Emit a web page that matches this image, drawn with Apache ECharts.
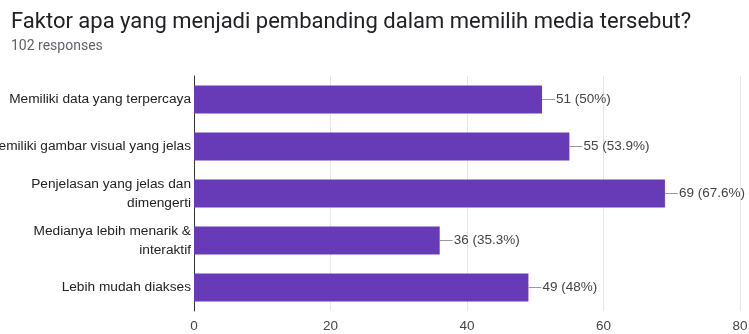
<!DOCTYPE html>
<html><head><meta charset="utf-8">
<script src="https://cdn.jsdelivr.net/npm/echarts@6/dist/echarts.min.js"></script>
<style>html,body{margin:0;padding:0;background:#fff}#c{width:749px;height:334px}</style>
</head><body><div id="c"></div>
<script>
const categories = ["Memiliki data yang terpercaya","Memiliki gambar visual yang jelas","Penjelasan yang jelas dan\ndimengerti","Medianya lebih menarik &\ninteraktif","Lebih mudah diakses"];
const values = [51, 55, 69, 36, 49];
const percents = ["50%","53.9%","67.6%","35.3%","48%"];
const xTicks = [0, 20, 40, 60, 80];

const chart = echarts.init(document.getElementById('c'));
chart.setOption({
  animation: false,
  title: [
    {text: "Faktor apa yang menjadi pembanding dalam memilih media tersebut?", left: 6, top: 6,
     textStyle: {fontFamily: 'Roboto', fontSize: 22, fontWeight: 'normal', color: '#202124'}},
    {text: "102 responses", left: 6, top: 34,
     textStyle: {fontFamily: 'Roboto', fontSize: 14, fontWeight: 'normal', color: '#5f6368'}}
  ],
  grid: {left: 194, right: 9, top: 76, bottom: 23, containLabel: false, outerBoundsMode: 'none'},
  xAxis: {
    type: 'value', min: xTicks[0], max: xTicks[xTicks.length-1], interval: 20,
    axisLine: {show: false}, axisTick: {show: false},
    splitLine: {lineStyle: {color: '#e6e6e6'}},
    axisLabel: {color: '#444', fontFamily: 'Liberation Sans', fontSize: 13.5, margin: 8}
  },
  yAxis: {
    type: 'category', data: categories, inverse: true,
    axisLine: {lineStyle: {color: '#333'}}, axisTick: {show: false},
    axisLabel: {color: '#222', fontFamily: 'Liberation Sans', fontSize: 13.7, margin: 3, lineHeight: 19, align: 'right'}
  },
  series: [{
    type: 'bar', data: values, barWidth: '60%',
    itemStyle: {color: '#673ab7'},
    label: {
      show: true, position: 'right', distance: 0,
      formatter: p => '{l|}{t|' + values[p.dataIndex] + ' (' + percents[p.dataIndex] + ')}',
      rich: {
        l: {width: 13, height: 1, backgroundColor: '#999'},
        t: {color: '#444', fontFamily: 'Liberation Sans', fontSize: 13.5, padding: [0,0,0,1]}
      }
    }
  }]
});
</script></body></html>
